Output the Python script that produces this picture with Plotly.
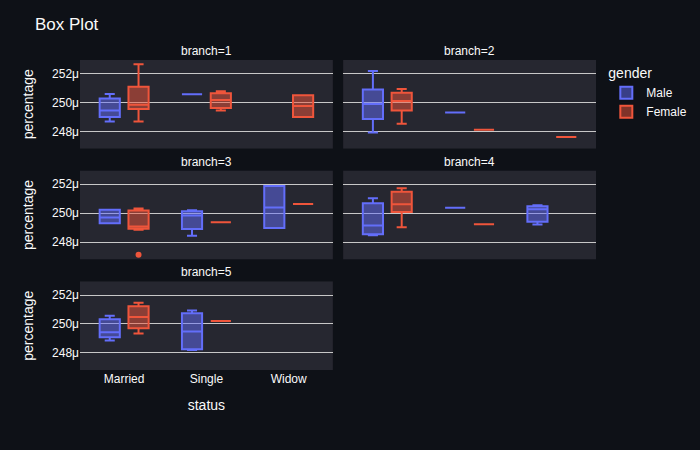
import plotly.graph_objects as go
from plotly.subplots import make_subplots

statuses = ["Married", "Single", "Widow"]
genders = ["Male", "Female"]
colors = {"Male": "#636efa", "Female": "#EF553B"}
branches = [1, 2, 3, 4, 5]

# Box statistics (values in units of 1e-6)
box_branch = [1, 1, 1, 1, 1,
              2, 2, 2, 2, 2,
              3, 3, 3, 3, 3, 3,
              4, 4, 4, 4, 4,
              5, 5, 5, 5]
box_gender = ["Male", "Male", "Female", "Female", "Female",
              "Male", "Male", "Female", "Female", "Female",
              "Male", "Male", "Male", "Female", "Female", "Female",
              "Male", "Male", "Male", "Female", "Female",
              "Male", "Male", "Female", "Female"]
box_status = ["Married", "Single", "Married", "Single", "Widow",
              "Married", "Single", "Married", "Single", "Widow",
              "Married", "Single", "Widow", "Married", "Single", "Widow",
              "Married", "Single", "Widow", "Married", "Single",
              "Married", "Single", "Married", "Single"]
box_lower = [248.69, 250.57, 248.69, 249.45, 248.99,
             247.93, 249.31, 248.53, 248.11, 247.61,
             249.31, 248.44, 248.97, 248.85, 249.38, 250.64,
             248.48, 250.37, 249.22, 249.03, 249.24,
             248.85, 248.20, 249.33, 250.20]
box_q1 = [248.99, 250.57, 249.54, 249.61, 248.99,
          248.85, 249.31, 249.45, 248.11, 247.61,
          249.31, 248.90, 248.97, 248.92, 249.38, 250.64,
          248.55, 250.37, 249.40, 250.09, 249.24,
          249.08, 248.25, 249.70, 250.20]
box_median = [249.45, 250.57, 249.84, 250.18, 249.75,
              249.90, 249.31, 250.11, 248.11, 247.61,
              249.70, 249.84, 250.39, 249.08, 249.38, 250.64,
              249.15, 250.37, 250.28, 250.62, 249.24,
              249.43, 249.47, 250.48, 250.20]
box_q3 = [250.28, 250.57, 251.08, 250.64, 250.50,
          250.90, 249.31, 250.67, 248.11, 247.61,
          250.23, 250.14, 251.89, 250.18, 249.38, 250.64,
          250.69, 250.37, 250.48, 251.49, 249.24,
          250.32, 250.74, 251.22, 250.20]
box_upper = [250.58, 250.57, 252.65, 250.78, 250.50,
             252.18, 249.31, 250.94, 248.11, 247.61,
             250.23, 250.21, 251.89, 250.32, 249.38, 250.64,
             251.03, 250.37, 250.55, 251.72, 249.24,
             250.57, 250.92, 251.47, 250.20]

# Outliers
out_branch = [3]
out_gender = ["Female"]
out_status = ["Married"]
out_value = [247.12]

SCALE = 1e-6
FONT = "Arial, Liberation Sans, sans-serif"
TXT = "#fafafa"

fig = make_subplots(rows=3, cols=2, shared_xaxes=False, shared_yaxes=False)

row_dom = [[0.7143, 1.0], [0.3571, 0.6429], [0.0, 0.2857]]
col_dom = [[0.0, 0.49], [0.51, 1.0]]

def pos(b):
    idx = b - 1
    return idx // 2 + 1, idx % 2 + 1

shown = set()
for b in branches:
    r, c = pos(b)
    for g in genders:
        idxs = [i for i in range(len(box_branch)) if box_branch[i] == b and box_gender[i] == g]
        if not idxs:
            continue
        xs = [box_status[i] for i in idxs]
        pts = []
        for x in xs:
            p = [out_value[k] * SCALE for k in range(len(out_value))
                 if out_branch[k] == b and out_gender[k] == g and out_status[k] == x]
            pts.append(p)
        has_pts = any(len(p) > 0 for p in pts)
        kw = {}
        if has_pts:
            kw["y"] = pts
        fig.add_trace(go.Box(
            name=g, legendgroup=g, showlegend=(g not in shown),
            x=xs,
            lowerfence=[box_lower[i] * SCALE for i in idxs],
            q1=[box_q1[i] * SCALE for i in idxs],
            median=[box_median[i] * SCALE for i in idxs],
            q3=[box_q3[i] * SCALE for i in idxs],
            upperfence=[box_upper[i] * SCALE for i in idxs],
            marker_color=colors[g], orientation="v",
            boxpoints="outliers", offsetgroup=g, alignmentgroup="True",
            **kw,
        ), row=r, col=c)
        shown.add(g)

fig.update_layout(
    template="plotly_dark",
    paper_bgcolor="#0e1117",
    plot_bgcolor="#262730",
    font=dict(family=FONT, color=TXT, size=12),
    title=dict(text="Box Plot", font=dict(size=17, color=TXT)),
    boxmode="group",
    width=700, height=450,
    margin=dict(l=80, r=104, t=60, b=80, autoexpand=False),
    legend=dict(title=dict(text="gender", font=dict(size=14)), tracegroupgap=0,
                font=dict(size=12)),
)

yrange = [246.81 * SCALE, 252.94 * SCALE]
for b in range(1, 7):
    r, c = pos(b)
    xa = "xaxis" if b == 1 else f"xaxis{b}"
    ya = "yaxis" if b == 1 else f"yaxis{b}"
    fig.layout[xa].update(domain=col_dom[c - 1], type="category",
                          categoryorder="array", categoryarray=statuses,
                          matches="x" if b != 1 else None, showgrid=False,
                          tickfont=dict(size=12, color=TXT))
    fig.layout[ya].update(domain=row_dom[r - 1], range=yrange, dtick=2e-6,
                          matches="y" if b != 1 else None,
                          gridcolor="#c8c8c8", gridwidth=1, zeroline=False,
                          tickfont=dict(size=12, color=TXT))
    if b == 6:
        fig.layout[xa].update(visible=False)
        fig.layout[ya].update(visible=False)
        continue
    if b != 5:
        fig.layout[xa].update(showticklabels=False)
    else:
        fig.layout[xa].update(title=dict(text="status", font=dict(size=14)))
    if c == 2:
        fig.layout[ya].update(showticklabels=False)
    else:
        fig.layout[ya].update(title=dict(text="percentage", font=dict(size=14)))
    fig.add_annotation(text=f"branch={b}", showarrow=False,
                       xref="paper", yref="paper",
                       x=(col_dom[c - 1][0] + col_dom[c - 1][1]) / 2,
                       y=row_dom[r - 1][1], xanchor="center", yanchor="bottom",
                       font=dict(size=12, color=TXT))

fig.write_html("out.html")
